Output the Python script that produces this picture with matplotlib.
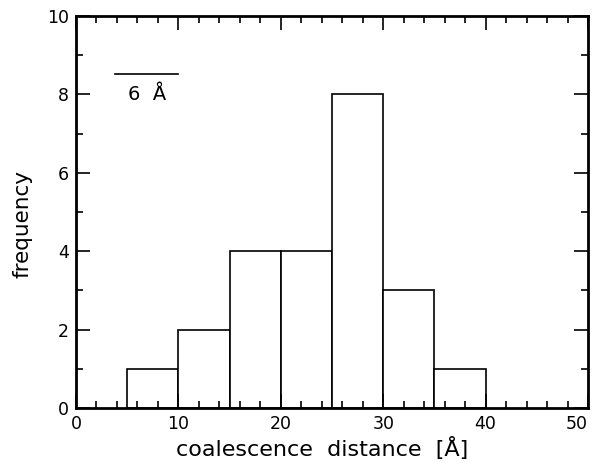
import matplotlib
matplotlib.use("Agg")
import matplotlib.pyplot as plt
from matplotlib.ticker import MultipleLocator

# histogram data
bin_edges = [5, 10, 15, 20, 25, 30, 35, 40]
counts = [1, 2, 4, 4, 8, 3, 1]
x_ticks = [0, 10, 20, 30, 40, 50]

plt.rcParams['font.family'] = ['DejaVu Sans']

fig = plt.figure(figsize=(5.94, 4.68), dpi=100)
ax = fig.add_axes([76/594, 60/468, 512/594, 392/468])

lefts = bin_edges[:-1]
widths = [b - a for a, b in zip(bin_edges[:-1], bin_edges[1:])]
ax.bar(lefts, counts, width=widths, align='edge', facecolor='white',
       edgecolor='black', linewidth=1.2)

ax.set_xlim(0, 50)
ax.set_ylim(0, 10)
ax.set_xticks(x_ticks)
ax.set_xticklabels([str(t) for t in x_ticks])
ax.get_xticklabels()[-1].set_ha('right')
ax.xaxis.set_minor_locator(MultipleLocator(2))
ax.yaxis.set_major_locator(MultipleLocator(2))
ax.yaxis.set_minor_locator(MultipleLocator(1))
ax.tick_params(which='both', direction='in', top=True, right=True,
               labelsize=12.5, pad=5)
ax.tick_params(which='major', length=10, width=1.2)
ax.tick_params(which='minor', length=5, width=1.2)
for s in ax.spines.values():
    s.set_linewidth(2)

ax.set_xlabel('coalescence  distance  [Å]', fontsize=16)
ax.xaxis.set_label_coords(0.48, -0.075)
ax.set_ylabel('frequency', fontsize=15.5)
ax.yaxis.set_label_coords(-0.085, 0.47)

# scale bar
ax.plot([3.8, 10.0], [8.52, 8.52], color='black', lw=1.2)
ax.text(6.9, 8.0, '6  Å', fontsize=14, ha='center', va='center')

fig.savefig('out.png', dpi=100)
